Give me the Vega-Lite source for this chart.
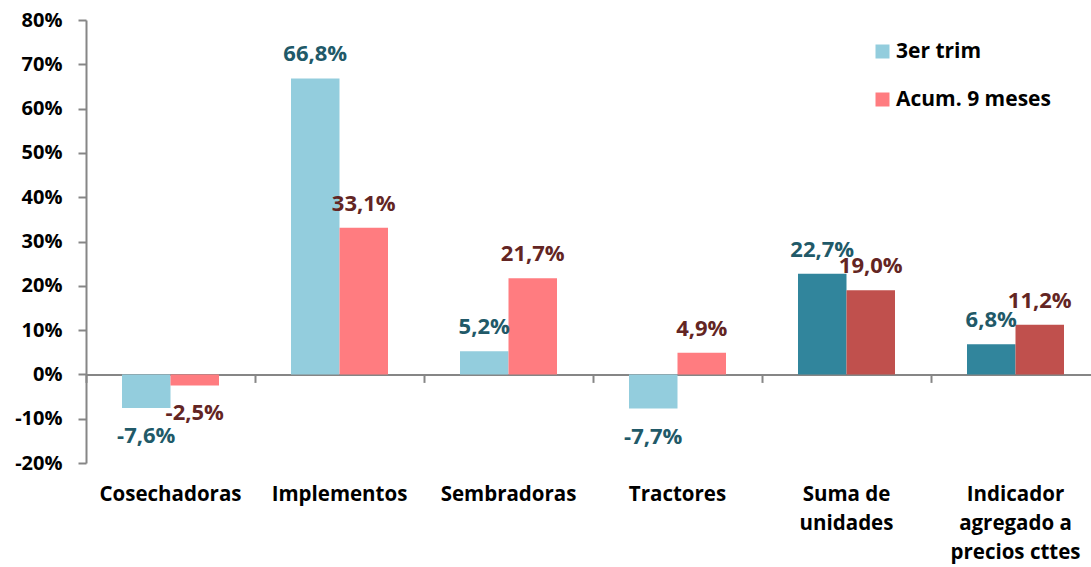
{
  "$schema": "https://vega.github.io/schema/vega-lite/v6.json",
  "width": 1005,
  "height": 443,
  "autosize": {"type": "none"},
  "padding": {"left": 86, "top": 20, "right": 0, "bottom": 104},
  "config": {
    "locale": {"number": {"decimal": ",", "thousands": ".", "grouping": [3], "currency": ["", " €"], "minus": "-"}},
    "view": {"stroke": null},
    "font": "Open Sans"
  },
  "data": {"values": [
    {"categoria": "Cosechadoras", "serie": "3er trim", "grupo": "3er trim", "valor": -0.076},
    {"categoria": "Cosechadoras", "serie": "Acum. 9 meses", "grupo": "Acum. 9 meses", "valor": -0.025},
    {"categoria": "Implementos", "serie": "3er trim", "grupo": "3er trim", "valor": 0.668},
    {"categoria": "Implementos", "serie": "Acum. 9 meses", "grupo": "Acum. 9 meses", "valor": 0.331},
    {"categoria": "Sembradoras", "serie": "3er trim", "grupo": "3er trim", "valor": 0.052},
    {"categoria": "Sembradoras", "serie": "Acum. 9 meses", "grupo": "Acum. 9 meses", "valor": 0.217},
    {"categoria": "Tractores", "serie": "3er trim", "grupo": "3er trim", "valor": -0.077},
    {"categoria": "Tractores", "serie": "Acum. 9 meses", "grupo": "Acum. 9 meses", "valor": 0.049},
    {"categoria": "Suma de unidades", "serie": "3er trim", "grupo": "3er trim total", "valor": 0.227},
    {"categoria": "Suma de unidades", "serie": "Acum. 9 meses", "grupo": "Acum. 9 meses total", "valor": 0.190},
    {"categoria": "Indicador agregado a precios cttes", "serie": "3er trim", "grupo": "3er trim total", "valor": 0.068},
    {"categoria": "Indicador agregado a precios cttes", "serie": "Acum. 9 meses", "grupo": "Acum. 9 meses total", "valor": 0.112}
  ]},
  "encoding": {
    "x": {
      "field": "categoria", "type": "nominal", "sort": null,
      "scale": {"range": [0, 1014], "paddingInner": 0.426, "paddingOuter": 0.213},
      "axis": null
    },
    "xOffset": {"field": "serie", "type": "nominal", "sort": ["3er trim", "Acum. 9 meses"], "scale": {"paddingInner": 0}},
    "y": {
      "field": "valor", "type": "quantitative",
      "scale": {"domain": [-0.2, 0.8], "nice": false},
      "axis": {
        "title": null, "format": ".0%", "values": [-0.2, -0.1, 0, 0.1, 0.2, 0.3, 0.4, 0.5, 0.6, 0.7, 0.8],
        "grid": false, "domainColor": "#868686", "domainWidth": 2, "tickColor": "#868686", "tickWidth": 2,
        "tickSize": 8, "labelPadding": 16, "labelFontSize": 20, "labelFontWeight": "bold", "labelColor": "#000000"
      }
    }
  },
  "layer": [
    {
      "mark": {"type": "bar"},
      "encoding": {
        "x": {
          "field": "categoria", "type": "nominal", "sort": null,
          "axis": {
            "title": null, "orient": "bottom", "domain": false, "ticks": false, "grid": false, "labelAngle": 0,
            "labelFontSize": 20.5, "labelFontWeight": "bold", "labelColor": "#000000", "labelPadding": 21,
            "labelLineHeight": 29,
            "labelExpr": "datum.label == 'Suma de unidades' ? ['Suma de', 'unidades'] : datum.label == 'Indicador agregado a precios cttes' ? ['Indicador', 'agregado a', 'precios cttes'] : datum.label"
          }
        },
        "color": {
          "field": "grupo", "type": "nominal",
          "scale": {"domain": ["3er trim", "Acum. 9 meses", "3er trim total", "Acum. 9 meses total"], "range": ["#93CDDD", "#FF7C80", "#31859C", "#C0504D"]},
          "legend": {
            "values": ["3er trim", "Acum. 9 meses"], "title": null, "orient": "none", "legendX": 786, "legendY": 21,
            "symbolType": "square", "symbolSize": 196, "symbolStrokeWidth": 0, "labelFontSize": 21, "labelFontWeight": "bold",
            "labelColor": "#000000", "labelOffset": 3, "rowPadding": 26
          }
        }
      }
    },
    {
      "transform": [{"filter": "datum.valor >= 0"}],
      "mark": {"type": "text", "fontSize": 22, "fontWeight": "bold", "baseline": "alphabetic", "dy": -17},
      "encoding": {
        "x": {
          "field": "categoria", "type": "nominal", "sort": null,
          "axis": {
            "title": null, "orient": "bottom", "offset": -88.6, "labels": false, "grid": false,
            "domain": true, "domainColor": "#868686", "domainWidth": 2,
            "ticks": true, "bandPosition": -0.371, "tickColor": "#868686", "tickWidth": 2, "tickSize": 8
          }
        },
        "text": {"field": "valor", "type": "quantitative", "format": ".1%"},
        "color": {"condition": {"test": "datum.serie == '3er trim'", "value": "#215968"}, "value": "#632523"}
      }
    },
    {
      "transform": [{"filter": "datum.valor < 0"}],
      "mark": {"type": "text", "fontSize": 22, "fontWeight": "bold", "baseline": "alphabetic", "dy": 35},
      "encoding": {
        "text": {"field": "valor", "type": "quantitative", "format": ".1%"},
        "color": {"condition": {"test": "datum.serie == '3er trim'", "value": "#215968"}, "value": "#632523"}
      }
    }
  ],
  "resolve": {"axis": {"x": "independent"}}
}
